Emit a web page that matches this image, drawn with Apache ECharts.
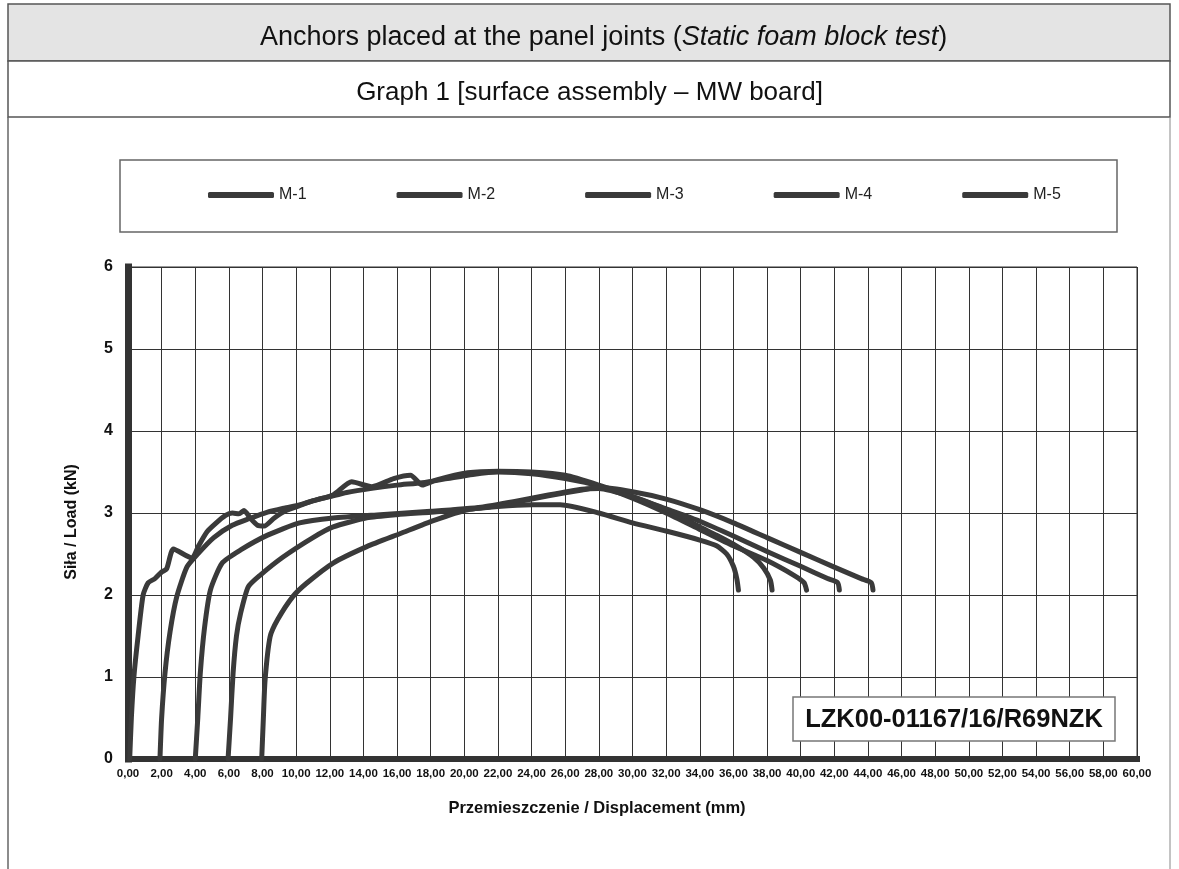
<!DOCTYPE html>
<html>
<head>
<meta charset="utf-8">
<script src="https://cdn.jsdelivr.net/npm/echarts@6/dist/echarts.min.js"></script>
<style>
  html, body { margin: 0; padding: 0; background: #fff; }
  #chart { width: 1179px; height: 869px; }
</style>
</head>
<body>
<div id="chart"></div>
<script>
// Load–displacement curves of the five anchors, [displacement mm, load kN]
const seriesNames = ['M-1', 'M-2', 'M-3', 'M-4', 'M-5'];

const m1 = [
  [0.1, 0], [0.2, 0.5], [0.35, 1.0], [0.6, 1.5], [0.9, 2.0], [1.2, 2.15], [1.6, 2.2],
  [2.0, 2.28], [2.3, 2.32], [2.7, 2.56], [3.8, 2.45], [4.2, 2.6], [4.7, 2.77], [5.2, 2.87],
  [5.8, 2.97], [6.2, 3.0], [6.6, 2.99], [6.9, 3.03], [7.3, 2.93], [7.7, 2.85], [8.1, 2.84],
  [8.7, 2.94], [9.4, 3.03], [10.2, 3.09], [11, 3.15], [12, 3.2], [13, 3.25], [14.5, 3.3],
  [16, 3.34], [17.5, 3.37], [19, 3.42], [20.5, 3.47], [22, 3.5], [24, 3.48], [26, 3.42],
  [28, 3.33], [30, 3.18], [32, 3.0], [34, 2.8], [36, 2.6], [38, 2.42], [39.6, 2.24],
  [40.2, 2.15], [40.35, 2.06]
];

const m2 = [
  [1.9, 0], [2.0, 0.5], [2.2, 1.05], [2.5, 1.55], [2.9, 1.98], [3.5, 2.34], [4.1, 2.49],
  [5.1, 2.7], [6.2, 2.85], [7.2, 2.93], [8.3, 3.01], [9.3, 3.06], [10.2, 3.1], [11.2, 3.16],
  [12.2, 3.22], [13.3, 3.38], [14.5, 3.32], [15.8, 3.42], [16.8, 3.46], [17.5, 3.34],
  [18.3, 3.4], [20.2, 3.49], [22, 3.51], [24, 3.5], [26, 3.46], [28, 3.34], [30, 3.2],
  [32, 3.04], [34, 2.83], [35, 2.73], [36, 2.62], [37.2, 2.46], [37.8, 2.33], [38.2, 2.18],
  [38.3, 2.06]
];

const m3 = [
  [4.0, 0], [4.15, 0.5], [4.3, 1.05], [4.55, 1.6], [4.9, 2.06], [5.6, 2.39], [6.7, 2.55],
  [8.3, 2.73], [10.2, 2.88], [12.2, 2.94], [15, 2.98], [18, 3.02], [21, 3.07], [23, 3.14],
  [25, 3.22], [27, 3.29], [28, 3.3], [30, 3.2], [32, 3.05], [34, 2.9], [36, 2.72],
  [38, 2.53], [40, 2.35], [41.6, 2.2], [42.2, 2.15], [42.3, 2.06]
];

const m4 = [
  [5.95, 0], [6.1, 0.5], [6.25, 1.05], [6.45, 1.5], [6.7, 1.78], [7.15, 2.1], [7.85, 2.24],
  [9.2, 2.46], [11, 2.7], [12.2, 2.83], [14.2, 2.94], [16, 2.98], [18, 3.01], [21, 3.06],
  [23, 3.13], [25, 3.21], [27, 3.28], [28, 3.31], [30, 3.26], [32, 3.17], [34, 3.04],
  [36, 2.88], [38, 2.7], [40, 2.52], [42, 2.34], [43.6, 2.2], [44.2, 2.15], [44.3, 2.06]
];

const m5 = [
  [7.95, 0], [8.05, 0.5], [8.15, 0.96], [8.45, 1.49], [8.9, 1.7], [9.8, 1.98], [10.6, 2.14],
  [12.2, 2.39], [14.2, 2.59], [16.2, 2.75], [18.2, 2.91], [20.2, 3.04], [22, 3.08], [24, 3.1],
  [25.7, 3.1], [28, 3.0], [30, 2.88], [32, 2.78], [34, 2.67], [35, 2.6], [35.6, 2.5],
  [36.0, 2.35], [36.2, 2.2], [36.3, 2.06]
];

const curves = [m1, m2, m3, m4, m5];

// Axis ranges
const xRange = { min: 0, max: 60, step: 2 };
const yRange = { min: 0, max: 6, step: 1 };

const titleMain = 'Anchors placed at the panel joints (';
const titleItalic = 'Static foam block test';
const titleSub = 'Graph 1 [surface assembly \u2013 MW board]';
const xName = 'Przemieszczenie / Displacement (mm)';
const yName = 'Si\u0142a / Load (kN)';
const reportId = 'LZK00-01167/16/R69NZK';

const FONT = '"Liberation Sans", Arial, sans-serif';
const INK = '#111';
const CURVE = '#3a3a3a';
const GRID = '#333';

const chart = echarts.init(document.getElementById('chart'), null, { renderer: 'canvas' });

chart.setOption({
  backgroundColor: '#fff',
  animation: false,
  title: [
    {
      text: '{n|' + titleMain + '}{i|' + titleItalic + '}{n|)}',
      left: 255, top: 19,
      textStyle: {
        fontWeight: 'normal',
        rich: {
          n: { fontFamily: FONT, fontSize: 27, fontWeight: 'normal', color: INK },
          i: { fontFamily: FONT, fontSize: 27, fontWeight: 'normal', fontStyle: 'italic', color: INK }
        }
      }
    },
    {
      text: titleSub,
      left: 'center', top: 75,
      textStyle: { fontFamily: FONT, fontSize: 26, fontWeight: 'normal', color: INK }
    }
  ],
  legend: {
    data: seriesNames,
    left: 208, top: 187,
    padding: 0,
    itemWidth: 66, itemHeight: 6, itemGap: 90,
    icon: 'roundRect',
    textStyle: { fontFamily: FONT, fontSize: 16, color: '#222' }
  },
  grid: {
    left: 128, right: 42, top: 267, bottom: 110,
    show: true, borderColor: GRID, borderWidth: 1
  },
  xAxis: {
    type: 'value',
    min: xRange.min, max: xRange.max, interval: xRange.step,
    axisLine: { lineStyle: { color: '#333', width: 6, cap: 'square' } },
    axisTick: { show: false },
    axisLabel: {
      margin: 9,
      fontFamily: FONT, fontSize: 11.5, fontWeight: 'bold', color: INK,
      formatter: v => v.toFixed(2).replace('.', ',')
    },
    splitLine: { show: true, lineStyle: { color: GRID, width: 1 } }
  },
  yAxis: {
    type: 'value',
    min: yRange.min, max: yRange.max, interval: yRange.step,
    axisLine: { show: true, lineStyle: { color: '#333', width: 7, cap: 'square' } },
    axisTick: { show: false },
    axisLabel: {
      margin: 15,
      fontFamily: FONT, fontSize: 16, fontWeight: 'bold', color: INK
    },
    splitLine: { show: true, lineStyle: { color: GRID, width: 1 } }
  },
  series: curves.map((d, i) => ({
    name: seriesNames[i],
    type: 'line',
    data: d,
    color: CURVE,
    showSymbol: false,
    symbol: 'none',
    smooth: 0.2,
    lineStyle: { color: CURVE, width: 5, join: 'round', cap: 'round' },
    z: 3
  })),
  graphic: [
    // heading bands
    { type: 'rect', shape: { x: 8, y: 4, width: 1162, height: 57 },
      style: { fill: '#e4e4e4', stroke: '#555', lineWidth: 1.5 }, z: -10 },
    { type: 'rect', shape: { x: 8, y: 61, width: 1162, height: 56 },
      style: { fill: '#fff', stroke: '#555', lineWidth: 1.5 }, z: -10 },
    { type: 'line', shape: { x1: 8, y1: 117, x2: 8, y2: 869 },
      style: { stroke: '#666', lineWidth: 1.5 }, z: -10 },
    { type: 'line', shape: { x1: 1170, y1: 117, x2: 1170, y2: 869 },
      style: { stroke: '#888', lineWidth: 1 }, z: -10 },
    // legend frame
    { type: 'rect', shape: { x: 120, y: 160, width: 997, height: 72 },
      style: { fill: 'none', stroke: '#666', lineWidth: 1.5 }, z: -5 },
    // axis titles
    { type: 'text', x: 597, y: 808,
      style: { text: xName, font: 'bold 16.5px ' + FONT, fill: INK,
               textAlign: 'center', textVerticalAlign: 'middle' } },
    { type: 'text', x: 72, y: 522, rotation: Math.PI / 2,
      style: { text: yName, font: 'bold 16px ' + FONT, fill: INK,
               textAlign: 'center', textVerticalAlign: 'middle' } },
    // report number box
    { type: 'rect', shape: { x: 793, y: 697, width: 322, height: 44 },
      style: { fill: '#fff', stroke: '#777', lineWidth: 1.5 }, z: 50 },
    { type: 'text', x: 954, y: 720, z: 51,
      style: { text: reportId, font: 'bold 25.5px ' + FONT, fill: INK,
               textAlign: 'center', textVerticalAlign: 'middle' } }
  ]
});
</script>
</body>
</html>
